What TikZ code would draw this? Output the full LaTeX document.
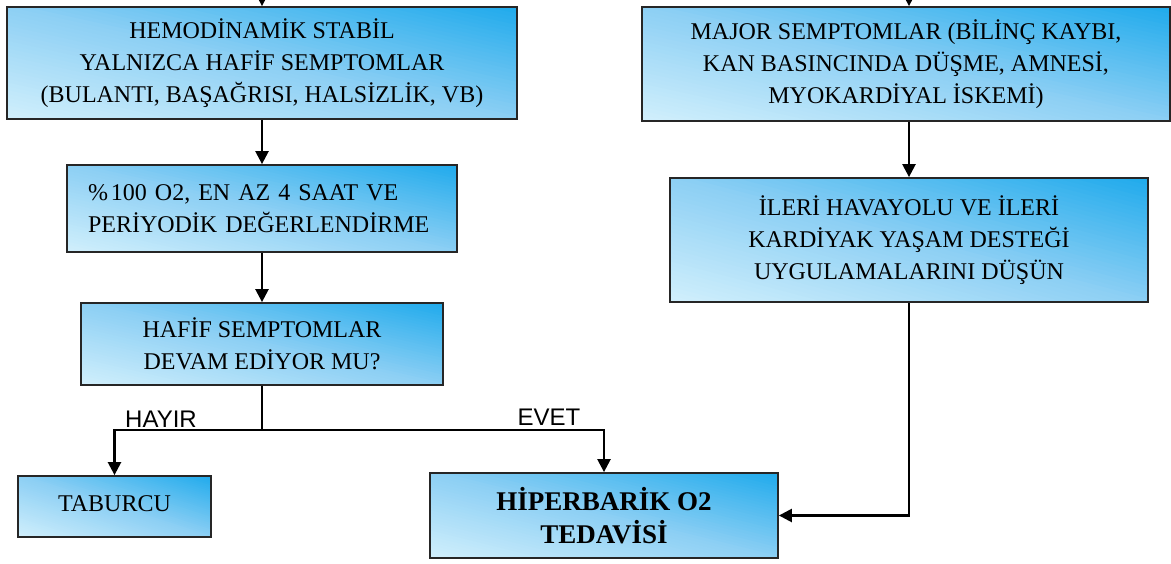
\documentclass[tikz,border=0pt]{standalone}
\usepackage{fontspec}
\setmainfont{Liberation Serif}
\newfontfamily\labfont{Liberation Sans}
\usetikzlibrary{arrows.meta}
\pgfdeclarelayer{bg}
\pgfsetlayers{bg,main}
\definecolor{bdark}{RGB}{30,170,236}
\definecolor{bmid}{RGB}{140,207,244}
\definecolor{blight}{RGB}{210,240,252}
\tikzset{
  flowbox/.style={draw=black!85, line width=1.8pt, inner sep=0pt, align=center,
    font=\fontsize{24}{32}\selectfont},
  conn/.style={line width=2.4pt, -{Triangle[length=13pt,width=13pt]}},
  plain/.style={line width=2.4pt},
  lbl/.style={font=\labfont\fontsize{24}{26}\selectfont, inner sep=0pt, anchor=base}
}
\newcommand\gradfill[1]{%
  \pgfpointanchor{#1}{south west}\pgfgetlastxy{\gxa}{\gya}%
  \pgfpointanchor{#1}{north east}\pgfgetlastxy{\gxb}{\gyb}%
  \pgfmathsetlengthmacro\gw{\gxb-\gxa}%
  \pgfmathsetlengthmacro\gh{\gyb-\gya}%
  \begin{scope}
    \clip (\gxa,\gya) rectangle (\gxb,\gyb);
    \begin{scope}[shift={(\gxa,\gya)}, x={(\gw,0pt)}, y={(0pt,\gh)}]
      \foreach \i in {0,...,59} {
        \pgfmathsetmacro\ta{\i/60}
        \pgfmathsetmacro\tb{(\i+1.6)/60}
        \pgfmathtruncatemacro\pa{min(100,(\i+0.5)*200/60)}
        \pgfmathtruncatemacro\pb{max(0,(\i+0.5)*200/60-100)}
        \colorlet{gcol}{bmid!\pa!blight}
        \colorlet{gcol}{bdark!\pb!gcol}
        \fill[gcol] (2*\ta+0.1,-0.1) -- (2*\tb+0.1,-0.1) -- (2*\tb-1.1,1.1) -- (2*\ta-1.1,1.1) -- cycle;
      }
    \end{scope}
  \end{scope}}
\begin{document}
\begin{tikzpicture}[x=1pt,y=-1pt]
\useasboundingbox (0,0) rectangle (1171,563);
\node[flowbox, minimum width=510pt, minimum height=112pt] (hemo) at (262,63)
  {HEMOD\.INAM\.IK STAB\.IL\\YALNIZCA HAF\.IF SEMPTOMLAR\\(BULANTI, BAŞAĞRISI, HALS\.IZL\.IK, VB)};
\node[flowbox, minimum width=528pt, minimum height=114pt] (major) at (906,64)
  {MAJOR SEMPTOMLAR (B\.IL\.INÇ KAYBI,\\KAN BASINCINDA DÜŞME, AMNES\.I,\\MYOKARD\.IYAL \.ISKEM\.I)};
\node[flowbox, minimum width=390pt, minimum height=87pt, align=left, text width=348pt] (oksijen) at (262,208.5)
  {\%\hspace{3pt}100 O2, EN AZ 4 SAAT VE\\PER\.IYOD\.IK DEĞERLEND\.IRME};
\node[flowbox, minimum width=478pt, minimum height=124pt] (ileri) at (909,240)
  {\.ILER\.I HAVAYOLU VE \.ILER\.I\\KARD\.IYAK YAŞAM DESTEĞ\.I\\UYGULAMALARINI DÜŞÜN};
\node[flowbox, minimum width=362pt, minimum height=82pt] (devam) at (262,344)
  {HAF\.IF SEMPTOMLAR\\DEVAM ED\.IYOR MU?};
\node[flowbox, minimum width=193pt, minimum height=61pt] (tab) at (114.5,506.5)
  {\raisebox{5pt}{TABURCU}};
\node[flowbox, minimum width=348pt, minimum height=85pt, font=\bfseries\fontsize{27}{33}\selectfont] (hbo) at (604,515.5)
  {H\.IPERBAR\.IK O2\\TEDAV\.IS\.I};
\begin{pgfonlayer}{bg}
  \gradfill{hemo}
  \gradfill{major}
  \gradfill{oksijen}
  \gradfill{ileri}
  \gradfill{devam}
  \gradfill{tab}
  \gradfill{hbo}
\end{pgfonlayer}
\coordinate (in1) at (hemo.north |- 0,-4);
\coordinate (in2) at (ileri.north |- 0,-4);
\coordinate (br) at (262,430);
\draw[conn] (in1) -- (in1 |- hemo.north);
\draw[conn] (in2) -- (in2 |- major.north);
\draw[conn] (hemo.south) -- (oksijen.north);
\draw[conn] (ileri.north |- major.south) -- (ileri.north);
\draw[conn] (oksijen.south) -- (devam.north);
\draw[plain] (devam.south) -- (br);
\draw[conn] (br) -| (tab.north);
\draw[conn] (br) -| (hbo.north);
\draw[conn] (ileri.south) |- (hbo.east);
\node[lbl] (hayir) at (161,427) {HAYIR};
\node[lbl] (evet) at (549,425) {EVET};
\end{tikzpicture}
\end{document}
